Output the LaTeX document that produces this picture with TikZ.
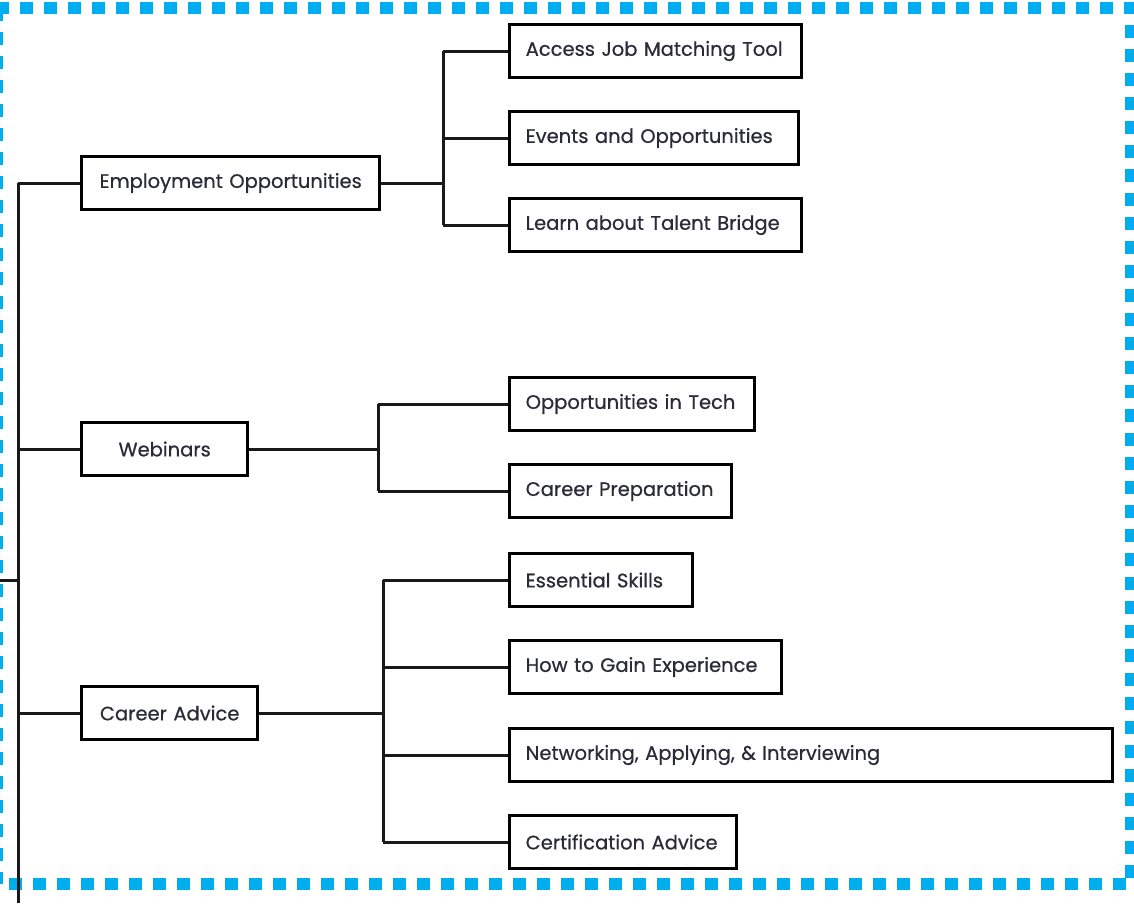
\documentclass[tikz,border=0pt]{standalone}
\usepackage{fontspec}
\setmainfont{Poppins}
\newfontfamily\boxfont{Poppins}[FakeBold=0.6]
\definecolor{dashblue}{HTML}{00AEEF}
\definecolor{txt}{HTML}{2B2B38}
\tikzset{
  conn/.style={line width=3pt, black!90},
  boxst/.style={draw=black, line width=3.4pt, fill=white, minimum height=53pt,
    inner xsep=16pt, inner ysep=0pt, anchor=west, font=\boxfont\fontsize{19.5}{22}\selectfont, text=txt},
  border/.style={draw=dashblue, line width=12pt, dash pattern=on 13pt off 11pt},
}
% name, x-left, y-center, width, text, alignment
\newcommand\mybox[6]{\node[boxst, text width=#4pt-32pt, align=#6] (#1) at (#2,#3) {#5};}
\begin{document}
\begin{tikzpicture}[x=1pt,y=-1pt]
\useasboundingbox (0,0) rectangle (1134,903);
\draw[border] (-3,8) rectangle (1131,884);

% trunk coordinates
\coordinate (top) at (18,183);
\coordinate (bot) at (18,903);
\coordinate (stub) at (0,580);
\coordinate (ja) at (443,183);
\coordinate (jb) at (378,449);
\coordinate (jc) at (383,713);

% level 1
\mybox{emp}{80}{183}{298}{Employment Opportunities}{center}
\mybox{web}{80}{449}{166}{Webinars}{center}
\mybox{car}{80}{713}{176}{Career Advice}{center}

% level 2
\mybox{a1}{508}{51}{292}{Access Job Matching Tool}{left}
\mybox{a2}{508}{138}{289}{Events and Opportunities}{left}
\mybox{a3}{508}{225}{292}{Learn about Talent Bridge}{left}
\mybox{b1}{508}{404}{245}{Opportunities in Tech}{left}
\mybox{b2}{508}{491}{222}{Career Preparation}{left}
\mybox{c1}{508}{580}{183}{Essential Skills}{left}
\mybox{c2}{508}{667}{272}{How to Gain Experience}{left}
\mybox{c3}{508}{755}{603}{Networking, Applying, \& Interviewing}{left}
\mybox{c4}{508}{842}{227}{Certification Advice}{left}

\draw[conn] (top) -- (bot);
\draw[conn] (stub) -- (stub -| top);
\draw[conn] (top) -- (emp.west);
\draw[conn] (top |- web.west) -- (web.west);
\draw[conn] (top |- car.west) -- (car.west);

\draw[conn] (emp.east) -- (ja);
\draw[conn] (ja |- a1.west) -- (ja |- a3.west);
\draw[conn] (ja |- a1.west) -- (a1.west);
\draw[conn] (ja |- a2.west) -- (a2.west);
\draw[conn] (ja |- a3.west) -- (a3.west);

\draw[conn] (web.east) -- (jb);
\draw[conn] (jb |- b1.west) -- (jb |- b2.west);
\draw[conn] (jb |- b1.west) -- (b1.west);
\draw[conn] (jb |- b2.west) -- (b2.west);

\draw[conn] (car.east) -- (jc);
\draw[conn] (jc |- c1.west) -- (jc |- c4.west);
\draw[conn] (jc |- c1.west) -- (c1.west);
\draw[conn] (jc |- c2.west) -- (c2.west);
\draw[conn] (jc |- c3.west) -- (c3.west);
\draw[conn] (jc |- c4.west) -- (c4.west);
\end{tikzpicture}
\end{document}
